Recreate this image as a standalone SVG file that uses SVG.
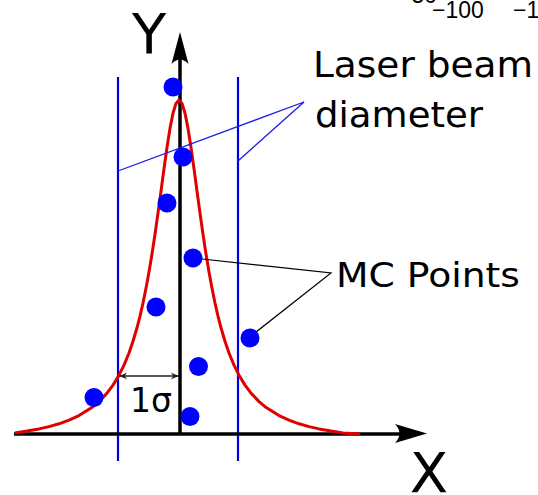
<svg xmlns="http://www.w3.org/2000/svg" width="538" height="495" viewBox="0 0 538 495">
<style>
.lbl{font-family:"DejaVu Sans",sans-serif;fill:#000}
.tick{font-family:"Liberation Sans",Arial,sans-serif;font-size:23px;fill:#000}
.beam{stroke:#0000e6;stroke-width:2.2;fill:none}
.thinb{stroke:#1a1ae6;stroke-width:1.3;fill:none}
.lead{stroke:#000;stroke-width:1.2;fill:none}
.dot{fill:#0000ff}
</style>
<defs>
<marker id="sa" viewBox="0 0 10 10" refX="10" refY="5" markerWidth="8" markerHeight="8" orient="auto-start-reverse" markerUnits="userSpaceOnUse">
<path d="M0,1 L10,5 L0,9 L3,5 Z" fill="#222"/>
</marker>
</defs>
<rect width="538" height="495" fill="#fff"/>
<g id="ticks">
<text class="tick" x="398" y="3">−50</text>
<text class="tick" x="432" y="18">−100</text>
<text class="tick" x="513" y="18">−1</text>
</g>
<g id="beam">
<line class="beam" x1="118" y1="77" x2="118" y2="461"/>
<line class="beam" x1="238" y1="77" x2="238" y2="461"/>
</g>
<g id="axes">
<line x1="14" y1="434" x2="410" y2="434" stroke="#000" stroke-width="3.5"/>
<path d="M427,433.5 L395,424 Q404,433.5 395,443 Z" fill="#000"/>
<line x1="180" y1="434" x2="180" y2="50" stroke="#000" stroke-width="3.5"/>
<path d="M180,32 L171.5,64 Q180,55 188.5,64 Z" fill="#000"/>
<text class="lbl" x="149" y="53" font-size="56" text-anchor="middle">Y</text>
<text class="lbl" x="429" y="492" font-size="56" text-anchor="middle">X</text>
</g>
<g id="curve">
<polyline fill="none" stroke="#e00000" stroke-width="3" stroke-linejoin="round" points="15,433 27,431.1 39,428.9 49,426.6 59,423.8 69,420.2 79,415.6 93,406.7 99,401.6 107,393.1 113,385.1 119,375.2 124,365.1 129,353 133,341.3 137,327.8 140,316.1 143,303 146,288.3 149,272 152,253.9 155,234.2 158,213.1 161,191.1 164,168.8 167,147.4 170,128.4 173,113.2 176,103.4 179,100 182,103.4 185,113.2 188,128.4 191,147.4 194,168.8 197,191.1 200,213.1 203,234.2 206,253.9 209,272 212,288.3 215,303 218,316.1 221,327.8 225,341.3 229,353 234,365.1 239,375.2 245,385.1 251,393.1 259,401.6 265,406.7 279,415.6 289,420.2 299,423.8 309,426.6 319,428.9 331,431.1 343,432.9 360,434"/>
</g>
<g id="sigma">
<line x1="119" y1="376" x2="179" y2="376" stroke="#222" stroke-width="1.3" marker-start="url(#sa)" marker-end="url(#sa)"/>
<text class="lbl" x="151" y="412" font-size="33" text-anchor="middle">1σ</text>
</g>
<g id="connectors">
<polyline class="thinb" points="118,171 304,102 238,161"/>
<polyline class="lead" points="193,258 331,273 251,336"/>
</g>
<g id="points">
<circle class="dot" cx="173" cy="87" r="9.5"/>
<circle class="dot" cx="183" cy="157" r="9.5"/>
<circle class="dot" cx="167" cy="203" r="9.5"/>
<circle class="dot" cx="193" cy="258" r="9.5"/>
<circle class="dot" cx="156" cy="307" r="9.5"/>
<circle class="dot" cx="250" cy="338" r="9.5"/>
<circle class="dot" cx="198.5" cy="366.5" r="9.5"/>
<circle class="dot" cx="94" cy="397.5" r="9.5"/>
<circle class="dot" cx="190" cy="416.5" r="9.5"/>
</g>
<g id="labels">
<text class="lbl" x="313" y="77" font-size="36" textLength="220" lengthAdjust="spacingAndGlyphs">Laser beam</text>
<text class="lbl" x="315" y="127" font-size="36" textLength="168" lengthAdjust="spacingAndGlyphs">diameter</text>
<text class="lbl" x="336" y="287" font-size="34" textLength="184" lengthAdjust="spacingAndGlyphs">MC Points</text>
</g>
</svg>
